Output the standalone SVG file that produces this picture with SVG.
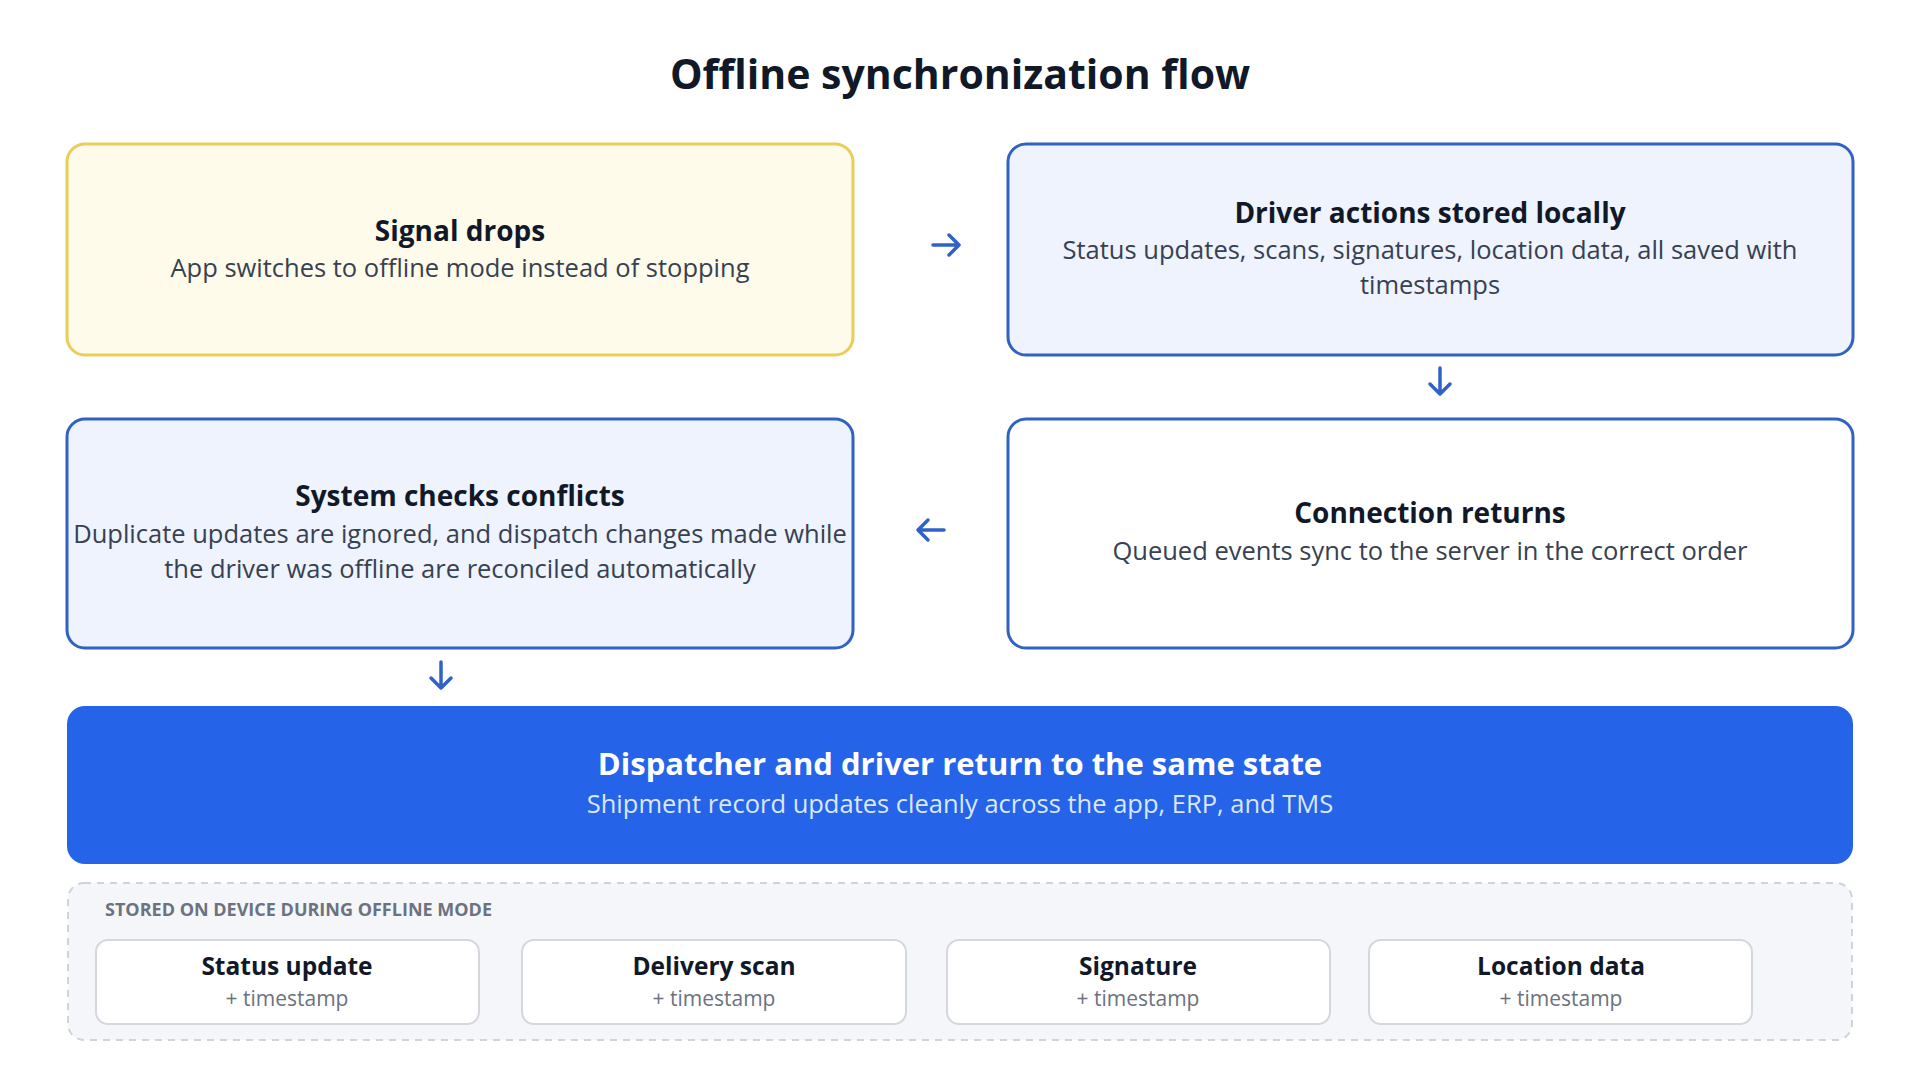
<svg xmlns="http://www.w3.org/2000/svg" width="1920" height="1080" viewBox="0 0 1920 1080">
<style>
  text { font-family: "Open Sans", Lato, "Liberation Sans", sans-serif; text-anchor: middle; }
  .h1 { font-size: 41px; font-weight: 700; fill: #111827; }
  .t { font-size: 28px; font-weight: 700; fill: #111827; }
  .s { font-size: 25.5px; fill: #374151; }
  .yel { fill: #fefbea; stroke: #e9cd5a; stroke-width: 3; }
  .blu { fill: #eef3fd; stroke: #3162c1; stroke-width: 3; }
  .wht { fill: #ffffff; stroke: #3162c1; stroke-width: 3; }
  .fin { fill: #2563e8; }
  .ft { font-size: 31px; font-weight: 700; fill: #ffffff; }
  .fs { font-size: 25.5px; fill: #dbe7fd; }
  .cont { fill: #f5f6f9; stroke: #cfd3da; stroke-width: 2; stroke-dasharray: 7 6; }
  .card { fill: #ffffff; stroke: #d4d7dd; stroke-width: 2; }
  .lab { font-size: 18px; font-weight: 700; fill: #6b7280; text-anchor: start; }
  .ct { font-size: 24.5px; font-weight: 700; fill: #111827; }
  .cs { font-size: 21px; fill: #6b7280; }
  .arr { fill: none; stroke: #2f62c9; stroke-width: 3.5; stroke-linecap: round; stroke-linejoin: round; }
</style>
<rect width="1920" height="1080" fill="#ffffff"/>
<text class="h1" x="960" y="89">Offline synchronization flow</text>

<g id="signal-drops">
  <rect class="yel" x="67" y="144" width="786" height="211" rx="18"/>
  <text class="t" x="460" y="241">Signal drops</text>
  <text class="s" x="460" y="277">App switches to offline mode instead of stopping</text>
</g>
<g id="driver-actions">
  <rect class="blu" x="1008" y="144" width="845" height="211" rx="18"/>
  <text class="t" x="1430" y="223">Driver actions stored locally</text>
  <text class="s" x="1430" y="259">Status updates, scans, signatures, location data, all saved with</text>
  <text class="s" x="1430" y="294">timestamps</text>
</g>
<g id="system-checks">
  <rect class="blu" x="67" y="419" width="786" height="229" rx="18"/>
  <text class="t" x="460" y="506">System checks conflicts</text>
  <text class="s" x="460" y="543">Duplicate updates are ignored, and dispatch changes made while</text>
  <text class="s" x="460" y="578">the driver was offline are reconciled automatically</text>
</g>
<g id="connection-returns">
  <rect class="wht" x="1008" y="419" width="845" height="229" rx="18"/>
  <text class="t" x="1430" y="523">Connection returns</text>
  <text class="s" x="1430" y="560">Queued events sync to the server in the correct order</text>
</g>
<g id="same-state">
  <rect class="fin" x="67" y="706" width="1786" height="158" rx="18"/>
  <text class="ft" x="960" y="775">Dispatcher and driver return to the same state</text>
  <text class="fs" x="960" y="813">Shipment record updates cleanly across the app, ERP, and TMS</text>
</g>
<g id="stored-on-device">
  <rect class="cont" x="68" y="883" width="1784" height="157" rx="16"/>
  <text class="lab" x="105" y="916">STORED ON DEVICE DURING OFFLINE MODE</text>
  <g id="card-status">
    <rect class="card" x="96" y="940" width="383" height="84" rx="12"/>
    <text class="ct" x="287" y="975">Status update</text>
    <text class="cs" x="287" y="1006">+ timestamp</text>
  </g>
  <g id="card-scan">
    <rect class="card" x="522" y="940" width="384" height="84" rx="12"/>
    <text class="ct" x="714" y="975">Delivery scan</text>
    <text class="cs" x="714" y="1006">+ timestamp</text>
  </g>
  <g id="card-signature">
    <rect class="card" x="947" y="940" width="383" height="84" rx="12"/>
    <text class="ct" x="1138" y="975">Signature</text>
    <text class="cs" x="1138" y="1006">+ timestamp</text>
  </g>
  <g id="card-location">
    <rect class="card" x="1369" y="940" width="383" height="84" rx="12"/>
    <text class="ct" x="1561" y="975">Location data</text>
    <text class="cs" x="1561" y="1006">+ timestamp</text>
  </g>
</g>

<g id="connectors">
  <path class="arr" d="M933 245 H959 M949 235 L959 245 L949 255"/>
  <path class="arr" d="M1440 368 V394 M1430 384 L1440 394 L1450 384"/>
  <path class="arr" d="M944 530 H918 M928 520 L918 530 L928 540"/>
  <path class="arr" d="M441 662 V688 M431 678 L441 688 L451 678"/>
</g>
</svg>
